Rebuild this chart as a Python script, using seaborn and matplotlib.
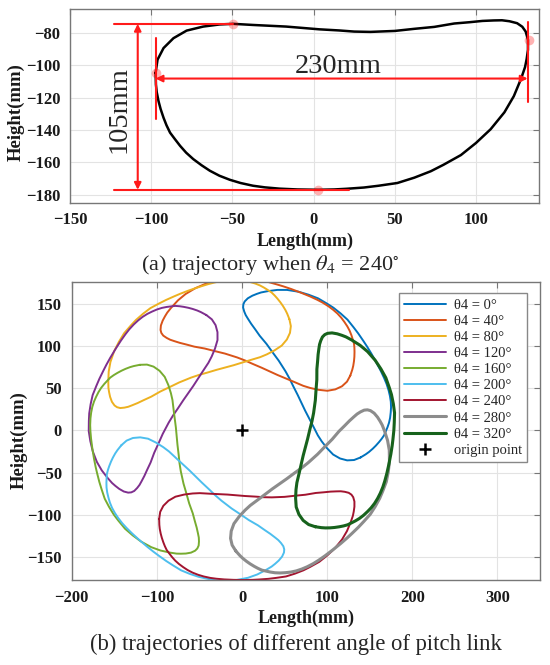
import numpy as np
import pandas as pd
import seaborn as sns
import matplotlib
matplotlib.use("Agg")
import matplotlib.pyplot as plt

# trajectory, theta4 = 240 deg (mm)
base_x = [-97.3, -96.1, -92.4, -86.3, -78.2, -68.0, -58.0, -49.6, -37.3, -16.9,
          3.5, 15.7, 25.0, 35.0, 50.0, 62.0, 74.3, 86.6, 96.0, 104.0,
          111.0, 116.0, 120.6, 125.3, 128.5, 130.6, 132.0, 132.0, 131.2, 130.2,
          127.8, 123.3, 117.5, 109.0, 100.0, 90.7, 80.0, 72.2, 62.0, 51.6,
          40.0, 31.0, 20.0, 12.6, 2.9, -10.0, -21.0, -30.0, -37.3, -45.0,
          -51.6, -58.0, -63.9, -69.0, -74.1, -78.5, -82.2, -85.5, -88.4, -90.6,
          -92.4, -94.2, -95.5, -96.6, -97.1, -97.3]
base_y = [-104.6, -96.4, -89.2, -83.1, -78.4, -75.9, -74.6, -74.2, -74.9, -75.9,
          -77.6, -78.3, -79.0, -79.2, -78.6, -77.3, -76.1, -74.0, -73.2, -72.4,
          -72.1, -72.0, -72.6, -73.8, -76.0, -79.0, -84.1, -90.3, -96.0, -101.0,
          -108.1, -119.0, -129.0, -139.5, -148.0, -155.5, -161.5, -165.5, -169.5, -172.8,
          -174.5, -175.6, -176.4, -176.8, -177.0, -176.8, -176.3, -175.5, -174.5, -172.8,
          -170.8, -168.3, -165.2, -161.8, -158.0, -154.0, -149.8, -145.5, -141.6, -137.0,
          -132.4, -127.0, -122.1, -116.5, -111.8, -104.6]
base_angle = 240

# marked extreme points in panel (a)
dot_x = [-49.6, -97.3, 132.6, 2.9]
dot_y = [-74.2, -104.6, -84.1, -177.0]

# panel (b): same loop for each pitch link angle, rotated about the origin
angles = [0, 40, 80, 120, 160, 200, 240, 280, 320]
colors = ["#0072BD", "#D95319", "#EDB120", "#7E2F8E", "#77AC30",
          "#4DBEEE", "#A2142F", "#8C8C8C", "#17621C"]
widths = [1.4, 1.4, 1.4, 1.4, 1.4, 1.4, 1.4, 2.2, 2.2]

sns.set_theme(style="white")
plt.rcParams["font.family"] = ["Liberation Serif", "DejaVu Serif"]
plt.rcParams["mathtext.fontset"] = "stix"
plt.rcParams["xtick.direction"] = "in"
plt.rcParams["ytick.direction"] = "in"

fig = plt.figure(figsize=(5.5, 6.65), dpi=100)
ax1 = fig.add_axes([0.1273, 0.6952, 0.8533, 0.2913])
ax2 = fig.add_axes([0.1304, 0.1278, 0.8515, 0.4486])


def style_axes(ax):
    ax.grid(True, color="#e3e3e3", lw=0.8)
    ax.set_axisbelow(True)
    for s in ax.spines.values():
        s.set_color("#777777")
        s.set_linewidth(1.0)
    ax.tick_params(top=True, right=True, length=4, width=0.8, color="#777777",
                   labelsize=12, pad=7)
    for lab in ax.get_xticklabels() + ax.get_yticklabels():
        lab.set_fontweight("bold")
        lab.set_color("#1a1a1a")


# ---- (a)
bx = np.array(base_x)
by = np.array(base_y)
df_a = pd.DataFrame({"x": np.append(bx, bx[0]), "y": np.append(by, by[0])})
sns.lineplot(data=df_a, x="x", y="y", sort=False, estimator=None,
             color="black", lw=1.8, ax=ax1)

red = "#FF1A1A"
top_y, bot_y = dot_y[0], dot_y[3]
left_x, right_x = dot_x[1], dot_x[2]
ax1.plot([-123, dot_x[0]], [top_y, top_y], color=red, lw=1.5)
ax1.plot([-123, 22], [bot_y, bot_y], color=red, lw=1.5)
ax1.plot([left_x, left_x], [-83, -133], color=red, lw=1.5)
ax1.plot([right_x - 0.8, right_x - 0.8], [-72.8, -122.7], color=red, lw=1.5)
arrow = dict(arrowstyle="<|-|>", color=red, lw=1.5, mutation_scale=10,
             shrinkA=0, shrinkB=0)
ax1.annotate("", xy=(-108.3, bot_y), xytext=(-108.3, top_y), arrowprops=arrow)
ax1.annotate("", xy=(left_x, -108.1), xytext=(right_x - 0.8, -108.1), arrowprops=arrow)
ax1.text(-120, -127, "105mm", rotation=90, ha="center", va="center", fontsize=20.5)
ax1.text(15, -100.5, "230mm", ha="center", va="center", fontsize=20.5)
ax1.plot(dot_x, dot_y, ls="none", marker="o", ms=7, color="red", alpha=0.3, mec="none")

ax1.set_xlim(-150, 139)
ax1.set_ylim(-185, -65)
ax1.set_xticks([-150, -100, -50, 0, 50, 100])
ax1.set_yticks([-180, -160, -140, -120, -100, -80])
ax1.set_xlabel("Length(mm)", fontsize=13, fontweight="bold", color="#1a1a1a")
ax1.set_ylabel("Height(mm)", fontsize=13.5, fontweight="bold", color="#1a1a1a")
style_axes(ax1)
ax1.xaxis.set_label_coords(0.5, -0.2)
ax1.xaxis.label.set_va("center")
ax1.yaxis.set_label_coords(-0.115, 0.47)
ax1.yaxis.label.set_va("center")

# ---- (b)
for ang, col, w in zip(angles, colors, widths):
    t = np.deg2rad(ang - base_angle)
    rx = bx * np.cos(t) - by * np.sin(t)
    ry = bx * np.sin(t) + by * np.cos(t)
    df = pd.DataFrame({"x": np.append(rx, rx[0]), "y": np.append(ry, ry[0])})
    sns.lineplot(data=df, x="x", y="y", sort=False, estimator=None,
                 color=col, lw=w, ax=ax2, label=f"θ4 = {ang}°")
origin = pd.DataFrame({"x": [0], "y": [0]})
ax2.plot(origin["x"], origin["y"], ls="none", marker="+", ms=8, mew=1.8,
         color="black", label="origin point")

ax2.set_xlim(-200, 350)
ax2.set_ylim(-177, 176)
ax2.set_xticks([-200, -100, 0, 100, 200, 300])
ax2.set_yticks([-150, -100, -50, 0, 50, 100, 150])
ax2.set_xlabel("Length(mm)", fontsize=13, fontweight="bold", color="#1a1a1a")
ax2.set_ylabel("Height(mm)", fontsize=13.5, fontweight="bold", color="#1a1a1a")
style_axes(ax2)
ax2.xaxis.set_label_coords(0.5, -0.128)
ax2.xaxis.label.set_va("center")
ax2.yaxis.set_label_coords(-0.112, 0.47)
ax2.yaxis.label.set_va("center")

leg = ax2.legend(loc="upper right", bbox_to_anchor=(0.9716, 0.961), borderaxespad=0,
                 fontsize=10.5, handlelength=2.9, labelspacing=0.2, handletextpad=0.5,
                 borderpad=0.35, frameon=True, fancybox=False, framealpha=1)
leg.get_frame().set_edgecolor("#888888")
leg.get_frame().set_linewidth(1.0)

fig.text(270 / 550, 1 - 265 / 665, "(a) trajectory when $\\theta_4$ = 240$^{\\circ}$",
         ha="center", va="center", fontsize=16)
fig.text(296 / 550, 1 - 644.5 / 665, "(b) trajectories of different angle of pitch link",
         ha="center", va="center", fontsize=16.3)

fig.savefig("out.png", dpi=100)
